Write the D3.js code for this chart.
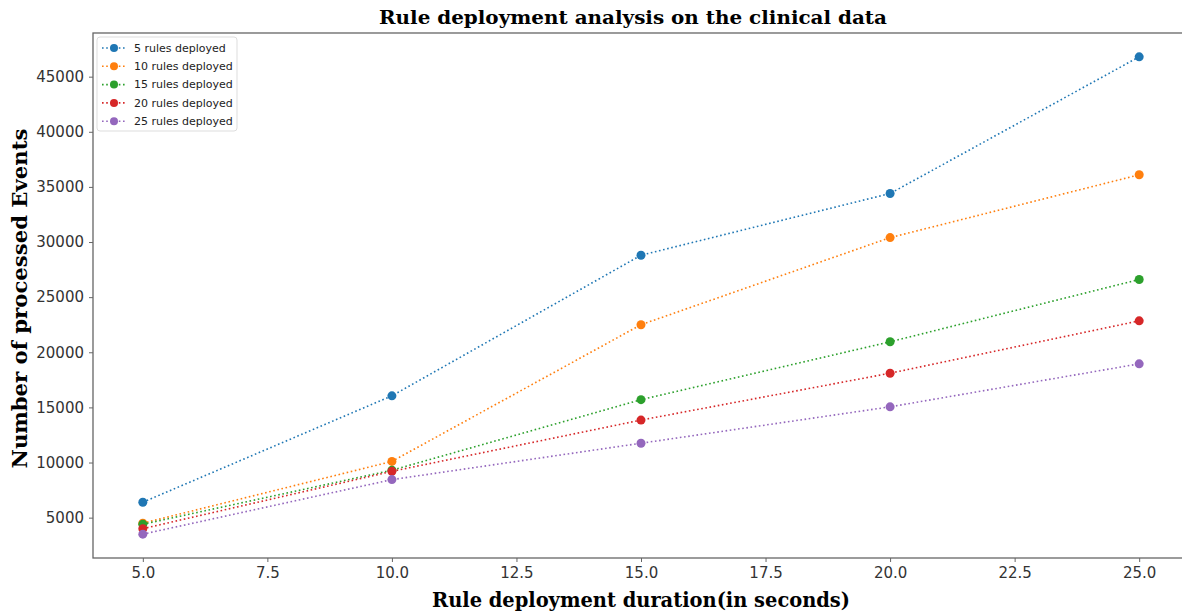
<!DOCTYPE html>
<html>
<head>
<meta charset="utf-8">
<script src="https://cdn.jsdelivr.net/npm/d3@7"></script>
<style>
  html, body { margin: 0; padding: 0; background: #fff; }
  svg { display: block; }
</style>
</head>
<body>
<svg id="chart" width="1182" height="613"></svg>
<script>
// ---- data ----
const durations = [5, 10, 15, 20, 25];
const seriesNames = ["5 rules deployed", "10 rules deployed", "15 rules deployed", "20 rules deployed", "25 rules deployed"];
const rules5  = [6400, 16050, 28800, 34400, 46800];
const rules10 = [4500, 10100, 22500, 30400, 36100];
const rules15 = [4400, 9300, 15700, 20950, 26600];
const rules20 = [4000, 9200, 13850, 18100, 22850];
const rules25 = [3500, 8450, 11750, 15050, 18950];
const seriesColors = ["#1f77b4", "#ff7f0e", "#2ca02c", "#d62728", "#9467bd"];
const xTicks = [5.0, 7.5, 10.0, 12.5, 15.0, 17.5, 20.0, 22.5, 25.0];
const yTicks = [5000, 10000, 15000, 20000, 25000, 30000, 35000, 40000, 45000];
const titleText = "Rule deployment analysis on the clinical data";
const xLabelText = "Rule deployment duration(in seconds)";
const yLabelText = "Number of processed Events";

const allSeries = [rules5, rules10, rules15, rules20, rules25];

(function () {
// ---- layout ----
const svg = d3.select("#chart");
const pLeft = 93, pRight = 1189, pTop = 33, pBottom = 558;

const x = d3.scaleLinear().domain([4, 26]).range([pLeft, pRight]);
const y = d3.scaleLinear().domain([1340, 48960]).range([pBottom, pTop]);

// frame
svg.append("rect")
  .attr("x", pLeft).attr("y", pTop)
  .attr("width", pRight - pLeft).attr("height", pBottom - pTop)
  .attr("fill", "#fff").attr("stroke", "#666").attr("stroke-width", 1.3);

// axes
const xAxis = svg.append("g")
  .attr("transform", `translate(0,${pBottom})`)
  .call(d3.axisBottom(x).tickValues(xTicks).tickFormat(d3.format(".1f")).tickSize(4).tickPadding(5));
const yAxis = svg.append("g")
  .attr("transform", `translate(${pLeft},0)`)
  .call(d3.axisLeft(y).tickValues(yTicks).tickFormat(d => String(d)).tickSize(4).tickPadding(5));

[xAxis, yAxis].forEach(g => {
  g.select(".domain").remove();
  g.selectAll(".tick line").attr("stroke", "#666");
  g.selectAll(".tick text")
    .attr("fill", "#333")
    .style("font-family", "'DejaVu Sans', sans-serif")
    .style("font-size", "15px");
});

// lines
const line = d3.line()
  .x((d, i) => x(durations[i]))
  .y(d => y(d));

allSeries.forEach((vals, si) => {
  const g = svg.append("g");
  g.append("path")
    .datum(vals)
    .attr("d", line)
    .attr("fill", "none")
    .attr("stroke", seriesColors[si])
    .attr("stroke-width", 1.6)
    .attr("stroke-dasharray", "1.6,2.6");
  g.selectAll("circle")
    .data(vals)
    .enter().append("circle")
    .attr("cx", (d, i) => x(durations[i]))
    .attr("cy", d => y(d))
    .attr("r", 4.5)
    .attr("fill", seriesColors[si]);
});

// title
svg.append("text")
  .attr("x", 633).attr("y", 24)
  .attr("text-anchor", "middle")
  .style("font-family", "'DejaVu Serif', serif")
  .style("font-weight", "bold")
  .style("font-size", "19px")
  .attr("textLength", 508).attr("lengthAdjust", "spacingAndGlyphs")
  .text(titleText);

// x label
svg.append("text")
  .attr("x", 641).attr("y", 607)
  .attr("text-anchor", "middle")
  .style("font-family", "'DejaVu Serif', serif")
  .style("font-weight", "bold")
  .style("font-size", "20px")
  .attr("textLength", 418).attr("lengthAdjust", "spacingAndGlyphs")
  .text(xLabelText);

// y label
svg.append("text")
  .attr("transform", `translate(27,${(pTop + pBottom) / 2 + 3}) rotate(-90)`)
  .attr("text-anchor", "middle")
  .style("font-family", "'DejaVu Serif', serif")
  .style("font-weight", "bold")
  .style("font-size", "20px")
  .attr("textLength", 340).attr("lengthAdjust", "spacingAndGlyphs")
  .text(yLabelText);

// legend
const lg = svg.append("g").attr("transform", "translate(97,37)");
lg.append("rect")
  .attr("x", 0).attr("y", 0).attr("width", 140).attr("height", 94)
  .attr("rx", 3)
  .attr("fill", "#fff").attr("stroke", "#ddd").attr("stroke-width", 1);
seriesNames.forEach((name, i) => {
  const yy = 11 + i * 18.3;
  lg.append("line")
    .attr("x1", 5).attr("x2", 29).attr("y1", yy).attr("y2", yy)
    .attr("stroke", seriesColors[i]).attr("stroke-width", 1.6)
    .attr("stroke-dasharray", "1.6,2.6");
  lg.append("circle")
    .attr("cx", 17).attr("cy", yy).attr("r", 4)
    .attr("fill", seriesColors[i]);
  lg.append("text")
    .attr("x", 37).attr("y", yy + 3.8)
    .style("font-family", "'DejaVu Sans', sans-serif")
    .style("font-size", "11px")
    .attr("fill", "#222")
    .text(name);
});
})();
</script>
</body>
</html>
